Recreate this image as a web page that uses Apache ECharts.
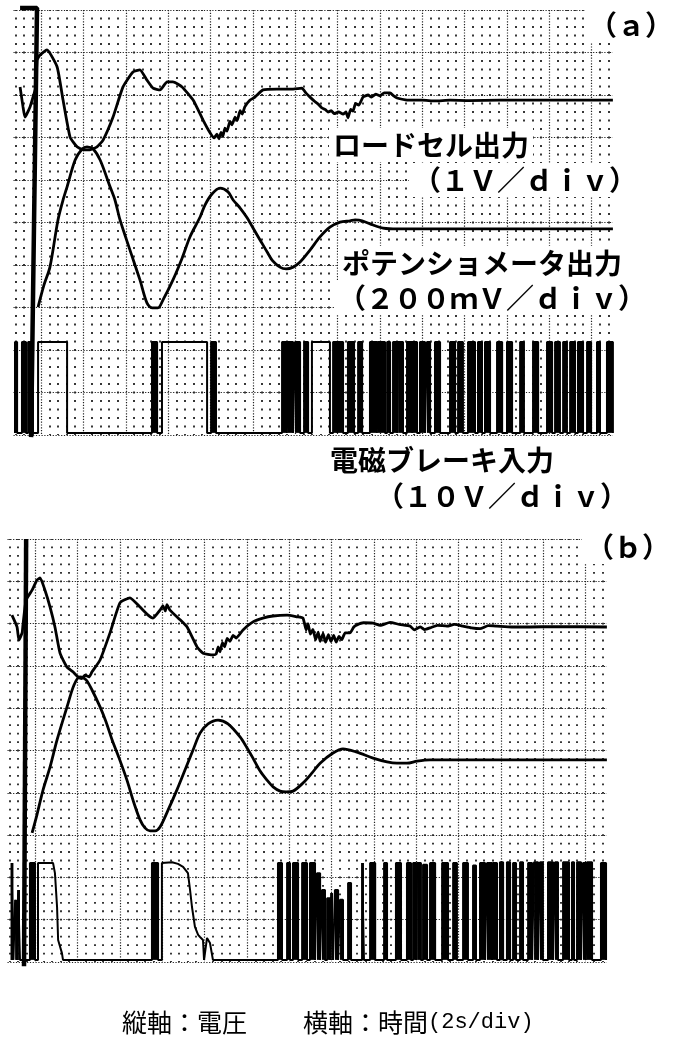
<!DOCTYPE html>
<html><head><meta charset="utf-8">
<script src="https://cdn.jsdelivr.net/npm/echarts@6/dist/echarts.min.js"></script>
<style>html,body{margin:0;padding:0;background:#fff}#c{width:674px;height:1039px}</style>
</head><body><div id="c"></div>
<script>
// ---- axes (time in s, 2 s/div; vertical in screen divisions) ----
const timeRange = [-1.3, 27];
const divRange = [0, 10];

// ---- panel (a) ----
const loadCellA = [[-0.99,8.19],[-0.85,7.72],[-0.76,7.48],[-0.52,7.72],[-0.38,7.95],[-0.24,8.19],[-0.19,8.82],[-0.05,8.94],[0.28,9.06],[0.76,8.66],[1.04,7.88],[1.37,7.01],[1.70,6.78],[1.98,6.71],[2.31,6.71],[2.64,6.78],[2.93,6.94],[3.40,7.48],[3.87,8.19],[4.34,8.54],[4.67,8.59],[5.00,8.35],[5.29,8.16],[5.62,8.12],[5.95,8.31],[6.23,8.31],[6.66,8.19],[7.18,7.88],[7.65,7.41],[7.98,7.11],[8.17,6.99],[8.31,7.08],[8.40,6.97],[8.50,7.12],[8.58,7.02],[8.68,7.22],[8.78,7.15],[8.92,7.38],[9.02,7.30],[9.16,7.48],[9.26,7.40],[9.40,7.63],[9.50,7.55],[9.62,7.72],[9.87,7.88],[10.10,7.95],[10.48,8.12],[11.14,8.14],[11.90,8.14],[12.32,8.16],[12.50,8.05],[12.70,7.95],[12.94,7.84],[13.10,7.78],[13.25,7.70],[13.41,7.66],[13.55,7.60],[13.70,7.63],[13.85,7.56],[14.05,7.60],[14.26,7.55],[14.40,7.60],[14.49,7.46],[14.62,7.66],[14.73,7.62],[14.85,7.80],[15.00,7.76],[15.20,7.95],[15.44,8.00],[15.60,7.95],[15.80,8.02],[16.01,7.98],[16.20,8.05],[16.48,8.05],[16.65,7.98],[16.81,7.93],[17.05,7.90],[17.28,7.88],[18.0,7.88],[18.6,7.86],[19.31,7.88],[20.2,7.87],[21.67,7.88],[24.03,7.88],[27.0,7.88]];
const potA = [[-0.14,3.01],[0.14,3.53],[0.42,3.95],[0.80,5.06],[1.04,5.53],[1.23,5.84],[1.61,6.47],[1.94,6.73],[2.17,6.78],[2.46,6.73],[2.79,6.47],[3.26,5.84],[3.49,5.53],[3.73,5.06],[4.20,4.35],[4.67,3.65],[5.00,3.11],[5.24,2.99],[5.52,2.99],[5.76,3.18],[6.23,3.65],[6.66,4.16],[7.03,4.66],[7.51,5.13],[7.74,5.41],[8.07,5.67],[8.45,5.81],[8.83,5.72],[9.07,5.53],[9.40,5.34],[9.73,5.11],[10.01,4.87],[10.34,4.59],[10.67,4.31],[10.95,4.09],[11.28,3.95],[11.57,3.91],[11.90,3.95],[12.23,4.07],[12.70,4.35],[13.17,4.66],[13.64,4.89],[14.12,5.01],[14.59,5.04],[14.83,5.06],[15.16,5.04],[15.68,4.94],[16.15,4.87],[16.81,4.85],[19.31,4.85],[27.0,4.85]];
const brakeLowA = 0.05, brakeHighA = 2.19;
const brakePulsesA = [[-1.23,-1.13],[-0.90,-0.71],[-0.61,-0.38],[-0.14,1.23],[5.24,5.48],[5.71,7.84],[8.03,8.26],[11.38,11.61],[11.66,11.90],[11.99,12.23],[12.42,12.61],[12.79,13.64],[13.79,13.98],[14.02,14.26],[14.49,14.78],[14.97,15.16],[15.53,15.86],[15.91,16.24],[16.34,16.48],[16.62,16.81],[16.86,17.09],[17.28,17.52],[17.56,17.75],[17.89,18.13],[18.22,18.37],[18.60,18.84],[19.31,19.55],[19.69,19.92],[20.16,20.49],[20.63,20.82],[20.96,21.20],[21.53,21.77],[22.00,22.24],[22.62,22.80],[23.23,23.47],[23.89,24.13],[24.27,24.50],[24.65,24.83],[24.98,25.21],[25.35,25.59],[25.78,25.97],[26.25,26.39],[26.72,27.0]];
const triggerA = [[-0.99,10.05],[-0.19,10.05],[-0.47,-0.05]];

// ---- panel (b) ----
const loadCellB = [[-1.09,8.20],[-0.85,7.92],[-0.76,7.61],[-0.61,7.78],[-0.57,7.97],[-0.42,8.56],[-0.14,8.79],[0.09,9.03],[0.24,9.08],[0.47,8.79],[0.71,8.39],[0.94,7.92],[1.18,7.30],[1.51,6.97],[1.79,6.86],[2.03,6.74],[2.20,6.70],[2.36,6.78],[2.55,6.74],[2.69,6.86],[3.07,7.14],[3.54,7.78],[4.01,8.49],[4.48,8.61],[4.96,8.39],[5.34,8.20],[5.57,8.13],[5.90,8.32],[6.04,8.42],[6.15,8.30],[6.23,8.45],[6.37,8.32],[6.85,8.09],[7.18,7.92],[7.65,7.45],[7.93,7.30],[8.40,7.26],[8.55,7.28],[8.65,7.45],[8.73,7.33],[8.85,7.55],[8.95,7.45],[9.07,7.65],[9.20,7.58],[9.35,7.72],[9.50,7.66],[9.82,7.85],[10.29,8.04],[10.76,8.13],[11.24,8.18],[11.90,8.20],[12.37,8.16],[12.65,8.13],[12.80,7.85],[12.89,8.00],[13.00,7.75],[13.12,7.86],[13.25,7.62],[13.37,7.80],[13.46,7.58],[13.60,7.76],[13.72,7.56],[13.85,7.74],[13.97,7.58],[14.10,7.72],[14.22,7.56],[14.35,7.70],[14.48,7.62],[14.64,7.78],[14.87,7.78],[15.05,7.92],[15.20,7.97],[15.5,8.02],[15.96,8.01],[16.3,7.96],[16.76,8.03],[17.2,7.98],[17.71,7.94],[17.9,7.85],[18.18,7.92],[18.4,7.86],[18.65,7.90],[19.0,7.96],[19.45,7.94],[19.8,7.98],[20.21,7.94],[20.6,7.90],[21.01,7.88],[21.4,7.95],[21.81,7.94],[22.5,7.92],[23.37,7.92],[24.5,7.93],[27.0,7.92]];
const potB = [[-0.14,3.05],[0.09,3.48],[0.38,4.07],[0.71,4.61],[1.04,5.25],[1.51,6.03],[1.84,6.55],[2.12,6.74],[2.41,6.67],[2.69,6.43],[3.07,6.03],[3.35,5.68],[3.64,5.25],[3.97,4.82],[4.34,4.30],[4.67,3.76],[4.96,3.36],[5.19,3.17],[5.43,3.10],[5.67,3.10],[5.90,3.19],[6.28,3.59],[6.70,4.07],[7.08,4.54],[7.46,5.01],[7.79,5.41],[8.17,5.63],[8.64,5.72],[9.11,5.63],[9.68,5.32],[10.01,5.06],[10.29,4.82],[10.62,4.52],[10.95,4.30],[11.24,4.14],[11.57,4.04],[11.85,4.02],[12.18,4.04],[12.65,4.23],[13.08,4.47],[13.46,4.70],[14.07,4.94],[14.54,5.04],[15.20,4.96],[15.96,4.82],[16.62,4.73],[17.09,4.70],[17.56,4.70],[18.04,4.75],[18.65,4.78],[27.0,4.78]];
const brakeLowB = 0.05;
// [start, end, level]
const brakePulsesB = [[-1.11,-1.02,2.34],[-0.94,-0.85,1.47],[-0.80,-0.71,1.70],[-0.24,0.00,2.34],[5.52,5.81,2.34],[11.47,11.66,2.34],[11.90,12.04,2.34],[12.18,12.42,2.34],[12.61,12.84,2.34],[12.98,13.22,2.34],[13.31,13.46,2.10],[13.55,13.69,1.70],[13.79,13.93,1.51],[13.98,14.07,1.63],[14.16,14.31,1.70],[14.40,14.54,1.47],[14.78,14.92,1.87],[15.44,15.53,2.34],[15.82,16.06,2.34],[16.48,16.62,2.34],[17.04,17.28,2.34],[17.56,17.75,2.34],[17.85,17.99,2.34],[18.04,18.22,2.34],[18.32,18.51,2.30],[18.65,18.89,2.34],[19.22,19.50,2.34],[19.74,19.92,2.34],[20.21,20.44,2.34],[20.68,20.82,2.28],[21.01,21.25,2.34],[21.34,21.58,2.34],[21.62,21.81,2.34],[21.95,22.10,2.36],[22.28,22.43,2.36],[22.57,22.71,2.34],[22.90,23.04,2.36],[23.28,23.47,2.34],[23.56,23.75,2.36],[23.84,23.98,2.36],[24.22,24.46,2.36],[24.55,24.69,2.36],[24.93,25.21,2.36],[25.35,25.45,2.36],[25.59,25.78,2.36],[25.87,26.01,2.34],[26.06,26.30,2.36],[26.72,26.96,2.34]];
// slowly released blocks [t, level]
const brakeSlowB1 = [[0.14,0.05],[0.14,2.34],[0.85,2.34],[0.94,2.10],[1.04,1.30],[1.09,0.52],[1.27,0.21],[1.32,0.05]];
const brakeSlowB2 = [[5.99,0.05],[5.99,2.34],[6.47,2.36],[6.75,2.32],[6.99,2.25],[7.22,2.10],[7.32,1.70],[7.41,1.30],[7.55,0.83],[7.70,0.64],[7.79,0.59],[7.93,0.52],[7.98,0.05],[8.07,0.05],[8.12,0.57],[8.26,0.45],[8.40,0.05]];
const triggerB = [[-0.42,10.0],[-0.52,-0.1]];

// ---- texts ----
const traceLabels = ['ロードセル出力','（１Ｖ／ｄｉｖ）','ポテンショメータ出力','（２００ｍＶ／ｄｉｖ）','電磁ブレーキ入力','（１０Ｖ／ｄｉｖ）'];
const panelLabels = ['（ａ）','（ｂ）'];
const captionParts = ['縦軸：電圧','横軸：時間','(2s/div)'];

// ---- build ----
function wave(pulses, low, slowBlocks) {
  const shapes = pulses.map(p => [[p[0],low],[p[0],p[2]],[p[1],p[2]],[p[1],low]]);
  slowBlocks.forEach(b => shapes.push(b));
  shapes.sort((a,b) => a[0][0]-b[0][0]);
  return [].concat(...shapes);
}
const pulsesA3 = brakePulsesA.map(p => [p[0], p[1], brakeHighA]);
const waveA = wave(pulsesA3, brakeLowA, []);
const waveB = wave(brakePulsesB, brakeLowB, [brakeSlowB1, brakeSlowB2]);
const fillA = pulsesA3.filter(p => p[1]-p[0] < 0.45).map(p => [p[0],p[1],p[2],brakeLowA]);
const fillB = brakePulsesB.filter(p => p[1]-p[0] < 0.45).map(p => [p[0],p[1],p[2],brakeLowB]);

const grids = [
  {left: 13.5, top: 10, width: 599.4, height: 425},
  {left: 7.5, top: 539, width: 599.4, height: 423}
];
function xAx(i, period) {
  return {type:'value', gridIndex:i, min:timeRange[0], max:timeRange[1], splitNumber:14,
    axisLine:{show:false}, axisTick:{show:false}, axisLabel:{show:false},
    splitLine:{show:true, showMinLine:false, showMaxLine:false, lineStyle:{color:'#222', width:1.2, type:[1.2,1.6]}},
    minorTick:{show:false, splitNumber:5},
    minorSplitLine:{show:true, lineStyle:{color:'#222', width:1.8, type:[1.8, period-1.8], dashOffset:0.9}}};
}
function yAx(i) {
  return {type:'value', gridIndex:i, min:divRange[0], max:divRange[1], interval:1,
    axisLine:{show:false}, axisTick:{show:false}, axisLabel:{show:false},
    splitLine:{show:true, lineStyle:{color:'#222', width:1.2, type:[1.2,1.6]}}};
}
function trace(i, data, smooth, w) {
  return {type:'line', xAxisIndex:i, yAxisIndex:i, data:data, symbol:'none', smooth:smooth,
    lineStyle:{color:'#000', width:w}, z:5, animation:false, silent:true};
}
function fills(i, data) {
  return {type:'custom', xAxisIndex:i, yAxisIndex:i, data:data, z:4, animation:false, silent:true,
    encode:{x:[0,1], y:[2,3]},
    renderItem:function(params, api){
      const p0 = api.coord([api.value(0), api.value(2)]);
      const p1 = api.coord([api.value(1), api.value(3)]);
      return {type:'rect', shape:{x:p0[0], y:p0[1], width:p1[0]-p0[0], height:p1[1]-p0[1]}, style:{fill:'#000'}};
    }};
}
const series = [
  trace(0, loadCellA, 0.15, 2.8), trace(0, potA, 0.3, 2.8), trace(0, waveA, false, 2.0), fills(0, fillA),
  Object.assign(trace(0, triggerA, false, 4.5), {clip:false}),
  trace(1, loadCellB, 0.15, 2.8), trace(1, potB, 0.3, 2.8), trace(1, waveB, false, 2.0), fills(1, fillB),
  Object.assign(trace(1, triggerB, false, 4.5), {clip:false})
];

const jp = '"Noto Sans CJK JP"';
function label(text, x, y) {
  return {type:'text', x:x, y:y, z:100, style:{text:text, font:'bold 28px ' + jp, fill:'#000',
    verticalAlign:'middle', align:'left', backgroundColor:'#fff', padding:[3,4]}};
}
const graphic = [
  label(panelLabels[0], 585, 25),
  label(traceLabels[0], 329, 145),
  label(traceLabels[1], 409, 180),
  label(traceLabels[2], 338, 263),
  label(traceLabels[3], 334, 298),
  label(traceLabels[4], 326, 460),
  label(traceLabels[5], 372, 496),
  label(panelLabels[1], 582, 547),
  {type:'text', x:122, y:1022, z:100, style:{text:captionParts[0], font:'25px ' + jp, fill:'#000', verticalAlign:'middle'}},
  {type:'text', x:303, y:1022, z:100, style:{text:'{j|' + captionParts[1] + '}{m|' + captionParts[2] + '}', verticalAlign:'middle',
    rich:{j:{font:'25px ' + jp, fill:'#000'}, m:{font:'22px "Liberation Mono"', fill:'#000'}}}}
];

const chart = echarts.init(document.getElementById('c'), null, {renderer:'canvas'});
chart.setOption({
  backgroundColor:'#fff', animation:false,
  grid: grids,
  xAxis: [xAx(0, 8.5), xAx(1, 8.46)],
  yAxis: [yAx(0), yAx(1)],
  series: series,
  graphic: graphic
});
</script></body></html>
